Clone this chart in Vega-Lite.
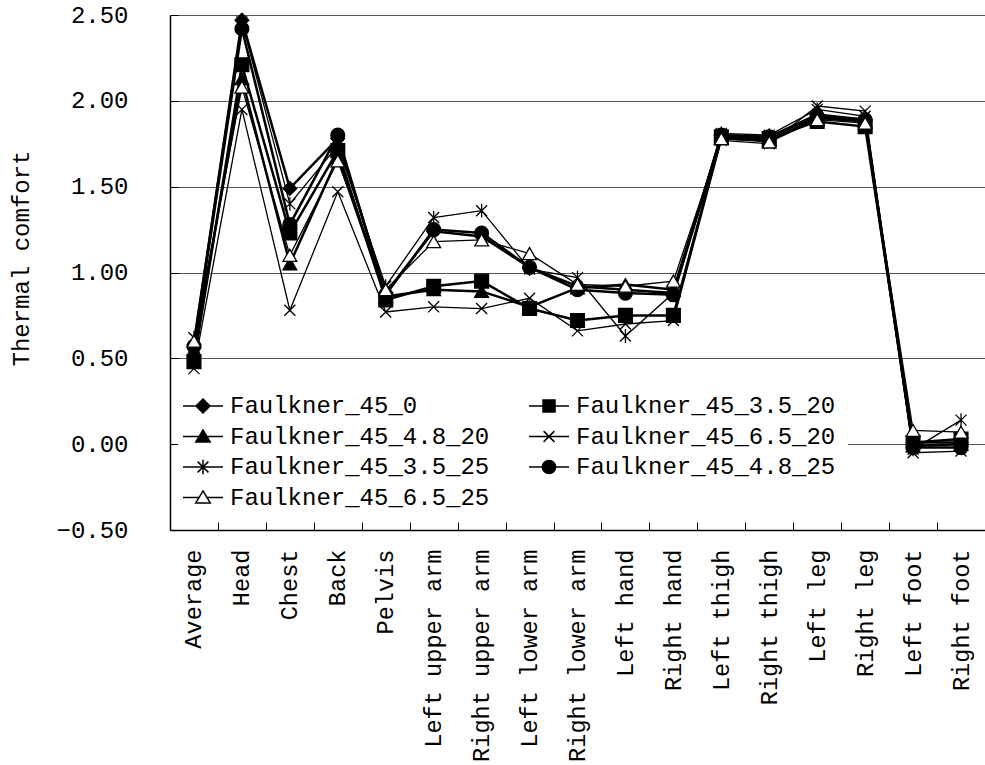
{
  "$schema": "https://vega.github.io/schema/vega-lite/v6.json",
  "width": 815,
  "height": 515,
  "autosize": {"type": "none"},
  "padding": {"left": 170, "top": 15, "right": 0, "bottom": 235},
  "background": "white",
  "config": {"view": {"stroke": null}, "font": "Liberation Mono"},
  "data": {"values": [
    {"series":"Faulkner_45_0","part":"Average","value":0.58},
    {"series":"Faulkner_45_0","part":"Head","value":2.47},
    {"series":"Faulkner_45_0","part":"Chest","value":1.49},
    {"series":"Faulkner_45_0","part":"Back","value":1.78},
    {"series":"Faulkner_45_0","part":"Pelvis","value":0.88},
    {"series":"Faulkner_45_0","part":"Left upper arm","value":1.24},
    {"series":"Faulkner_45_0","part":"Right upper arm","value":1.21},
    {"series":"Faulkner_45_0","part":"Left lower arm","value":1.03},
    {"series":"Faulkner_45_0","part":"Right lower arm","value":0.92},
    {"series":"Faulkner_45_0","part":"Left hand","value":0.90},
    {"series":"Faulkner_45_0","part":"Right hand","value":0.88},
    {"series":"Faulkner_45_0","part":"Left thigh","value":1.80},
    {"series":"Faulkner_45_0","part":"Right thigh","value":1.79},
    {"series":"Faulkner_45_0","part":"Left leg","value":1.92},
    {"series":"Faulkner_45_0","part":"Right leg","value":1.89},
    {"series":"Faulkner_45_0","part":"Left foot","value":0.01},
    {"series":"Faulkner_45_0","part":"Right foot","value":0.01},

    {"series":"Faulkner_45_3.5_20","part":"Average","value":0.48},
    {"series":"Faulkner_45_3.5_20","part":"Head","value":2.21},
    {"series":"Faulkner_45_3.5_20","part":"Chest","value":1.23},
    {"series":"Faulkner_45_3.5_20","part":"Back","value":1.71},
    {"series":"Faulkner_45_3.5_20","part":"Pelvis","value":0.84},
    {"series":"Faulkner_45_3.5_20","part":"Left upper arm","value":0.92},
    {"series":"Faulkner_45_3.5_20","part":"Right upper arm","value":0.95},
    {"series":"Faulkner_45_3.5_20","part":"Left lower arm","value":0.79},
    {"series":"Faulkner_45_3.5_20","part":"Right lower arm","value":0.72},
    {"series":"Faulkner_45_3.5_20","part":"Left hand","value":0.75},
    {"series":"Faulkner_45_3.5_20","part":"Right hand","value":0.75},
    {"series":"Faulkner_45_3.5_20","part":"Left thigh","value":1.79},
    {"series":"Faulkner_45_3.5_20","part":"Right thigh","value":1.78},
    {"series":"Faulkner_45_3.5_20","part":"Left leg","value":1.88},
    {"series":"Faulkner_45_3.5_20","part":"Right leg","value":1.85},
    {"series":"Faulkner_45_3.5_20","part":"Left foot","value":0.01},
    {"series":"Faulkner_45_3.5_20","part":"Right foot","value":0.03},

    {"series":"Faulkner_45_4.8_20","part":"Average","value":0.55},
    {"series":"Faulkner_45_4.8_20","part":"Head","value":2.13},
    {"series":"Faulkner_45_4.8_20","part":"Chest","value":1.05},
    {"series":"Faulkner_45_4.8_20","part":"Back","value":1.67},
    {"series":"Faulkner_45_4.8_20","part":"Pelvis","value":0.86},
    {"series":"Faulkner_45_4.8_20","part":"Left upper arm","value":0.90},
    {"series":"Faulkner_45_4.8_20","part":"Right upper arm","value":0.89},
    {"series":"Faulkner_45_4.8_20","part":"Left lower arm","value":0.80},
    {"series":"Faulkner_45_4.8_20","part":"Right lower arm","value":0.91},
    {"series":"Faulkner_45_4.8_20","part":"Left hand","value":0.93},
    {"series":"Faulkner_45_4.8_20","part":"Right hand","value":0.90},
    {"series":"Faulkner_45_4.8_20","part":"Left thigh","value":1.78},
    {"series":"Faulkner_45_4.8_20","part":"Right thigh","value":1.77},
    {"series":"Faulkner_45_4.8_20","part":"Left leg","value":1.90},
    {"series":"Faulkner_45_4.8_20","part":"Right leg","value":1.88},
    {"series":"Faulkner_45_4.8_20","part":"Left foot","value":-0.01},
    {"series":"Faulkner_45_4.8_20","part":"Right foot","value":0.00},

    {"series":"Faulkner_45_6.5_20","part":"Average","value":0.44},
    {"series":"Faulkner_45_6.5_20","part":"Head","value":1.95},
    {"series":"Faulkner_45_6.5_20","part":"Chest","value":0.78},
    {"series":"Faulkner_45_6.5_20","part":"Back","value":1.47},
    {"series":"Faulkner_45_6.5_20","part":"Pelvis","value":0.77},
    {"series":"Faulkner_45_6.5_20","part":"Left upper arm","value":0.80},
    {"series":"Faulkner_45_6.5_20","part":"Right upper arm","value":0.79},
    {"series":"Faulkner_45_6.5_20","part":"Left lower arm","value":0.85},
    {"series":"Faulkner_45_6.5_20","part":"Right lower arm","value":0.66},
    {"series":"Faulkner_45_6.5_20","part":"Left hand","value":0.70},
    {"series":"Faulkner_45_6.5_20","part":"Right hand","value":0.72},
    {"series":"Faulkner_45_6.5_20","part":"Left thigh","value":1.77},
    {"series":"Faulkner_45_6.5_20","part":"Right thigh","value":1.75},
    {"series":"Faulkner_45_6.5_20","part":"Left leg","value":1.97},
    {"series":"Faulkner_45_6.5_20","part":"Right leg","value":1.94},
    {"series":"Faulkner_45_6.5_20","part":"Left foot","value":-0.05},
    {"series":"Faulkner_45_6.5_20","part":"Right foot","value":-0.04},

    {"series":"Faulkner_45_3.5_25","part":"Average","value":0.62},
    {"series":"Faulkner_45_3.5_25","part":"Head","value":2.46},
    {"series":"Faulkner_45_3.5_25","part":"Chest","value":1.40},
    {"series":"Faulkner_45_3.5_25","part":"Back","value":1.74},
    {"series":"Faulkner_45_3.5_25","part":"Pelvis","value":0.92},
    {"series":"Faulkner_45_3.5_25","part":"Left upper arm","value":1.32},
    {"series":"Faulkner_45_3.5_25","part":"Right upper arm","value":1.36},
    {"series":"Faulkner_45_3.5_25","part":"Left lower arm","value":1.02},
    {"series":"Faulkner_45_3.5_25","part":"Right lower arm","value":0.97},
    {"series":"Faulkner_45_3.5_25","part":"Left hand","value":0.63},
    {"series":"Faulkner_45_3.5_25","part":"Right hand","value":0.88},
    {"series":"Faulkner_45_3.5_25","part":"Left thigh","value":1.81},
    {"series":"Faulkner_45_3.5_25","part":"Right thigh","value":1.80},
    {"series":"Faulkner_45_3.5_25","part":"Left leg","value":1.95},
    {"series":"Faulkner_45_3.5_25","part":"Right leg","value":1.91},
    {"series":"Faulkner_45_3.5_25","part":"Left foot","value":-0.03},
    {"series":"Faulkner_45_3.5_25","part":"Right foot","value":0.14},

    {"series":"Faulkner_45_4.8_25","part":"Average","value":0.57},
    {"series":"Faulkner_45_4.8_25","part":"Head","value":2.42},
    {"series":"Faulkner_45_4.8_25","part":"Chest","value":1.28},
    {"series":"Faulkner_45_4.8_25","part":"Back","value":1.80},
    {"series":"Faulkner_45_4.8_25","part":"Pelvis","value":0.87},
    {"series":"Faulkner_45_4.8_25","part":"Left upper arm","value":1.25},
    {"series":"Faulkner_45_4.8_25","part":"Right upper arm","value":1.23},
    {"series":"Faulkner_45_4.8_25","part":"Left lower arm","value":1.03},
    {"series":"Faulkner_45_4.8_25","part":"Right lower arm","value":0.90},
    {"series":"Faulkner_45_4.8_25","part":"Left hand","value":0.88},
    {"series":"Faulkner_45_4.8_25","part":"Right hand","value":0.87},
    {"series":"Faulkner_45_4.8_25","part":"Left thigh","value":1.80},
    {"series":"Faulkner_45_4.8_25","part":"Right thigh","value":1.79},
    {"series":"Faulkner_45_4.8_25","part":"Left leg","value":1.91},
    {"series":"Faulkner_45_4.8_25","part":"Right leg","value":1.89},
    {"series":"Faulkner_45_4.8_25","part":"Left foot","value":-0.02},
    {"series":"Faulkner_45_4.8_25","part":"Right foot","value":-0.02},

    {"series":"Faulkner_45_6.5_25","part":"Average","value":0.60},
    {"series":"Faulkner_45_6.5_25","part":"Head","value":2.08},
    {"series":"Faulkner_45_6.5_25","part":"Chest","value":1.10},
    {"series":"Faulkner_45_6.5_25","part":"Back","value":1.65},
    {"series":"Faulkner_45_6.5_25","part":"Pelvis","value":0.90},
    {"series":"Faulkner_45_6.5_25","part":"Left upper arm","value":1.18},
    {"series":"Faulkner_45_6.5_25","part":"Right upper arm","value":1.19},
    {"series":"Faulkner_45_6.5_25","part":"Left lower arm","value":1.11},
    {"series":"Faulkner_45_6.5_25","part":"Right lower arm","value":0.93},
    {"series":"Faulkner_45_6.5_25","part":"Left hand","value":0.92},
    {"series":"Faulkner_45_6.5_25","part":"Right hand","value":0.95},
    {"series":"Faulkner_45_6.5_25","part":"Left thigh","value":1.78},
    {"series":"Faulkner_45_6.5_25","part":"Right thigh","value":1.76},
    {"series":"Faulkner_45_6.5_25","part":"Left leg","value":1.89},
    {"series":"Faulkner_45_6.5_25","part":"Right leg","value":1.87},
    {"series":"Faulkner_45_6.5_25","part":"Left foot","value":0.08},
    {"series":"Faulkner_45_6.5_25","part":"Right foot","value":0.07}
  ]},
  "encoding": {
    "x": {
      "field": "part", "type": "nominal",
      "scale": {"type": "band", "paddingInner": 0, "paddingOuter": 0,
        "domain": ["Average","Head","Chest","Back","Pelvis","Left upper arm","Right upper arm","Left lower arm","Right lower arm","Left hand","Right hand","Left thigh","Right thigh","Left leg","Right leg","Left foot","Right foot"]},
      "axis": {"title": null, "labelAngle": -90, "labelFont": "Liberation Mono", "labelFontSize": 23.6, "labelColor": "black",
        "labelLimit": 400, "labelPadding": 27, "tickBand": "extent", "tickSize": -8, "tickColor": "black",
        "domainColor": "black", "domainWidth": 1.5, "grid": false}
    },
    "y": {
      "field": "value", "type": "quantitative",
      "scale": {"domain": [-0.5, 2.5], "nice": false, "zero": false},
      "axis": {"title": "Thermal comfort", "titleFont": "Liberation Mono", "titleFontSize": 24, "titleFontWeight": "normal",
        "titleColor": "black", "titlePadding": 22, "titleY": 243,
        "values": [-0.5, 0, 0.5, 1, 1.5, 2, 2.5], "format": ".2f",
        "labelFont": "Liberation Mono", "labelFontSize": 24, "labelColor": "black", "labelPadding": 50,
        "tickSize": -8, "tickColor": "black", "domainColor": "black", "domainWidth": 1.5,
        "grid": true, "gridColor": "#555555", "gridWidth": 1}
    }
  },
  "layer": [
    {
      "transform": [{"filter": {"field": "series", "oneOf": ["Faulkner_45_6.5_20", "Faulkner_45_3.5_25", "Faulkner_45_6.5_25"]}}],
      "mark": {"type": "line", "color": "black", "strokeWidth": 1.3},
      "encoding": {"detail": {"field": "series", "type": "nominal"}}
    },
    {
      "transform": [{"filter": {"field": "series", "oneOf": ["Faulkner_45_0", "Faulkner_45_3.5_20", "Faulkner_45_4.8_20", "Faulkner_45_4.8_25"]}}],
      "mark": {"type": "line", "color": "black", "strokeWidth": 2.5},
      "encoding": {"detail": {"field": "series", "type": "nominal"}}
    },
    {
      "mark": {"type": "point", "stroke": "black", "strokeWidth": 1.3, "opacity": 1, "size": 190},
      "encoding": {
        "shape": {"field": "series", "type": "nominal",
          "scale": {"domain": ["Faulkner_45_0","Faulkner_45_3.5_20","Faulkner_45_4.8_20","Faulkner_45_6.5_20","Faulkner_45_3.5_25","Faulkner_45_4.8_25","Faulkner_45_6.5_25"],
            "range": ["M0,-1L1,0L0,1L-1,0Z", "square", "triangle-up", "M-0.8,-0.8L0.8,0.8M-0.8,0.8L0.8,-0.8", "M-0.8,-0.8L0.8,0.8M-0.8,0.8L0.8,-0.8M0,-1L0,1", "circle", "triangle-up"]},
          "legend": null},
        "fill": {"field": "series", "type": "nominal",
          "scale": {"domain": ["Faulkner_45_0","Faulkner_45_3.5_20","Faulkner_45_4.8_20","Faulkner_45_6.5_20","Faulkner_45_3.5_25","Faulkner_45_4.8_25","Faulkner_45_6.5_25"],
            "range": ["black", "black", "black", "transparent", "transparent", "black", "white"]},
          "legend": null}
      }
    },
    {
      "transform": [{"filter": "false"}],
      "mark": {"type": "point", "stroke": "black", "strokeWidth": 1.5, "opacity": 1, "size": 190},
      "encoding": {
        "shape": {"field": "series", "type": "nominal",
          "scale": {"domain": ["Faulkner_45_0","Faulkner_45_3.5_20","Faulkner_45_4.8_20","Faulkner_45_6.5_20","Faulkner_45_3.5_25","Faulkner_45_4.8_25","Faulkner_45_6.5_25"],
            "range": ["M-1.67,0H1.67M0,-0.58L0.58,0L0,0.58L-0.58,0Z", "M-1.67,0H1.67M-0.5,-0.5H0.5V0.5H-0.5Z", "M-1.67,0H1.67M0,-0.55L0.6,0.45L-0.6,0.45Z", "M-1.67,0H1.67M-0.45,-0.45L0.45,0.45M-0.45,0.45L0.45,-0.45", "M-1.67,0H1.67M-0.45,-0.45L0.45,0.45M-0.45,0.45L0.45,-0.45M0,-0.6V0.6", "M-1.67,0H1.67M0.55,0A0.55,0.55,0,1,1,-0.55,0A0.55,0.55,0,1,1,0.55,0Z", "M-1.67,0H-0.33M0.33,0H1.67M0,-0.55L0.6,0.45L-0.6,0.45Z"]},
          "legend": {
            "title": null, "orient": "none", "legendX": 8, "legendY": 366, "columns": 2, "direction": "horizontal",
            "columnPadding": 35, "rowPadding": 5.5, "padding": 12, "fillColor": "white",
            "symbolSize": 576, "labelFont": "Liberation Mono", "labelFontSize": 24, "labelColor": "black",
            "labelLimit": 400, "labelOffset": 14}},
        "fill": {"field": "series", "type": "nominal",
          "scale": {"domain": ["Faulkner_45_0","Faulkner_45_3.5_20","Faulkner_45_4.8_20","Faulkner_45_6.5_20","Faulkner_45_3.5_25","Faulkner_45_4.8_25","Faulkner_45_6.5_25"],
            "range": ["black", "black", "black", "transparent", "transparent", "black", "white"]},
          "legend": {
            "title": null, "orient": "none", "legendX": 8, "legendY": 366, "columns": 2, "direction": "horizontal",
            "columnPadding": 35, "rowPadding": 5.5, "padding": 12, "fillColor": "white",
            "symbolSize": 576, "labelFont": "Liberation Mono", "labelFontSize": 24, "labelColor": "black",
            "labelLimit": 400, "labelOffset": 14}}
      }
    }
  ],
  "resolve": {"scale": {"shape": "independent", "fill": "independent"}, "legend": {"shape": "independent", "fill": "independent"}}
}
